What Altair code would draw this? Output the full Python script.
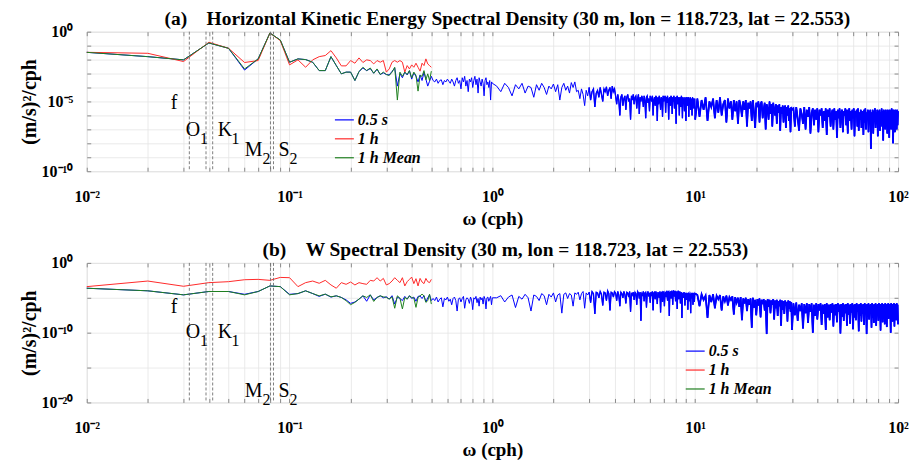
import altair as alt
import pandas as pd

FONT = "Liberation Serif"
SERIES = ["0.5 s", "1 h", "1 h Mean"]
COLORS = ["#0000ff", "#ff2a2a", "#1f7f1f"]

# inertial / tidal frequencies (cph): f, O1, K1, M2, S2
TIDE_FREQ = [0.03205, 0.03873, 0.04178, 0.08051, 0.08333]

# ---------------- (a) horizontal kinetic energy, log10 of PSD ----------------
# 1 h spectra at 0.01 ... 0.50 cph
HKE_1H = [-1.48, -1.55, -2.14, -0.76, -1.19, -2.21, -2.07, -0.10, -0.64, -2.38,
          -2.02, -2.55, -2.02, -1.79, -1.71, -1.36, -1.88, -2.45, -2.45, -2.07,
          -2.26, -1.88, -2.21, -2.02, -2.07, -2.31, -2.07, -2.19, -2.07, -2.90,
          -2.67, -2.19, -2.07, -2.19, -2.07, -2.19, -2.90, -2.43, -2.67, -2.38,
          -2.55, -2.26, -2.55, -2.83, -2.26, -2.43, -1.95, -2.31, -2.43, -2.55]
HKE_1H_MEAN = [-1.48, -1.79, -2.02, -0.81, -1.19, -2.67, -1.95, -0.10, -0.60, -2.19,
               -1.95, -2.00, -2.19, -2.79, -2.79, -1.79, -2.43, -3.02, -2.90, -2.90,
               -3.50, -2.86, -2.55, -2.79, -2.60, -2.98, -2.67, -3.07, -2.90, -3.07,
               -3.14, -2.90, -2.55, -4.90, -2.90, -3.20, -2.90, -3.07, -2.79, -3.31,
               -2.90, -3.14, -4.26, -3.14, -3.20, -2.79, -3.45, -3.02, -3.50, -2.83]
# 0.5 s spectrum, piecewise on its frequency grid
HKE_05S_LOW = [-1.48, -1.79, -2.02, -0.81, -1.19, -2.75, -1.95, -0.10, -0.60, -2.19,
               -1.95, -2.00, -2.19, -2.79, -2.79, -1.79, -2.43, -3.02, -2.90, -2.90,
               -3.50, -2.86, -2.60, -2.79, -2.65, -2.98, -2.70, -3.07, -2.95, -3.07,
               -3.10, -2.85, -2.60, -3.90, -3.00, -3.30, -2.90, -3.10, -2.80, -3.40,
               -2.95, -3.20, -3.60, -3.10, -3.50, -2.90, -3.40, -3.90, -3.55, -3.20]
HKE_05S_MID = [-3.5, -3.6, -3.4, -3.7, -3.5, -3.45, -3.8, -3.5, -3.6, -3.4,
               -3.55, -3.7, -3.4, -3.6, -3.9, -3.5, -3.3, -3.7, -3.5, -4.1,
               -3.3, -3.6, -3.2, -3.9, -3.5, -4.3, -3.4, -3.6, -3.3, -4.0,
               -3.5, -3.2, -3.8, -3.4, -4.4, -3.3, -3.6, -3.9, -3.4, -3.7,
               -4.6, -3.5, -3.3, -3.8, -3.6, -4.0, -3.5, -4.9, -3.6, -3.7]
HKE_05S_1_10 = [-3.9, -4.3, -3.7, -4.0, -4.6, -3.8, -4.1, -3.7, -4.4, -3.9,
                -4.0, -4.7, -3.8, -4.2, -3.7, -4.0, -4.5, -3.9, -4.1, -3.75,
                -4.3, -3.8, -4.9, -4.0, -3.7, -4.2, -3.9, -4.4, -3.65, -4.0,
                -3.6, -4.3,
                -4.2, -4.8, -4.1, -4.5, -5.3, -4.2, -4.6, -4.0, -4.9, -4.3,
                -4.1, -5.4, -4.4, -4.2, -4.7, -4.0, -4.5, -5.0, -4.1, -4.3,
                -3.95, -4.6, -4.2, -4.0, -4.8, -3.9, -4.3, -4.1,
                -4.6, -5.2, -4.5, -4.9, -6.0, -4.7, -4.5, -5.3, -4.8, -4.6,
                -5.6, -4.7, -4.5, -5.0, -4.8, -6.3, -4.6, -4.9, -4.5, -5.2,
                -4.7, -4.6, -5.5, -4.8, -4.5, -5.9, -4.7, -5.0, -4.6, -4.8,
                -5.4, -4.6, -4.9, -6.2, -4.7, -4.6, -5.1, -4.8, -5.7, -4.6,
                -4.8, -5.0, -4.6, -6.0, -4.9, -4.7, -5.3, -4.6, -4.8, -6.4,
                -4.7, -5.2, -4.6, -4.9, -5.6, -4.7, -4.8, -6.1, -4.6, -5.0,
                -4.8, -4.6, -5.8, -4.7, -5.1, -4.6, -4.9, -6.3, -4.8, -4.7,
                -5.3, -4.6, -4.8, -5.9, -4.7, -5.0, -4.6, -5.5, -4.8, -4.7,
                -6.6, -4.8, -4.6, -5.2, -4.7, -4.9, -6.0, -4.7, -4.8, -5.4,
                -4.6, -4.9, -6.2, -4.7, -5.0, -4.8, -5.7, -4.7, -4.9, -6.4,
                -4.8, -4.7, -5.3, -4.9, -4.7, -6.1, -4.8, -5.0, -4.7, -5.6,
                -4.8, -4.9, -6.0, -4.7, -5.1, -4.8, -5.5, -4.9, -4.8, -6.3]
HKE_05S_10_30 = [-4.8, -6.1, -4.9, -5.6, -4.7, -6.4, -5.0, -5.4, -4.8, -6.2,
                 -4.9, -5.8, -4.7, -6.0, -5.2, -4.9, -6.5, -4.8, -5.5, -5.0,
                 -6.3, -4.9, -5.7, -5.0, -6.6, -4.9, -5.3, -6.1, -5.0, -5.6,
                 -4.9, -6.8, -5.1, -5.5, -5.0, -6.4, -4.9, -5.8, -6.9, -5.1,
                 -5.4, -5.0, -6.5, -5.2, -5.0, -6.2, -5.6, -5.1, -7.0, -5.2,
                 -5.5, -6.3, -5.0, -5.9, -5.2, -6.8, -5.1, -5.6, -6.0, -5.2,
                 -6.6, -5.3, -5.8, -5.2, -7.1, -5.4, -5.9, -5.3, -6.5, -5.5,
                 -5.3, -6.9, -5.4, -6.0, -5.3, -6.4, -5.5, -7.2, -5.4, -5.6]
HKE_05S_30_100 = [-5.5, -6.8, -5.4, -6.2, -7.1, -5.5, -5.9, -6.6, -5.4, -7.0,
                  -5.6, -6.1, -5.4, -7.3, -5.8, -5.5, -6.7, -5.6, -6.3, -5.5,
                  -7.2, -5.6, -6.0, -5.5, -6.9, -5.7, -6.4, -5.5, -7.4, -5.6,
                  -6.1, -5.5, -6.8, -5.9, -5.6, -7.0, -5.5, -6.3, -5.7, -7.6,
                  -5.6, -6.2, -5.5, -6.9, -5.8, -5.6, -7.2, -5.7, -6.0, -5.5,
                  -6.7, -5.6, -7.3, -5.9, -5.5, -6.4, -5.7, -7.0, -5.6, -6.2,
                  -5.5, -7.5, -5.7, -6.1, -5.6, -6.8, -5.5, -7.1, -5.8, -6.3,
                  -5.6, -6.9, -5.7, -6.0, -7.4, -5.6, -6.5, -5.5, -7.0, -5.8,
                  -6.2, -5.6, -7.2, -5.7, -6.0, -5.6, -8.4, -5.8, -6.6, -5.6,
                  -7.3, -5.7, -6.1, -5.5, -6.9, -5.8, -6.4, -5.6, -7.5, -5.7,
                  -6.0, -5.6, -7.1, -5.8, -6.3, -5.5, -6.8, -5.7, -7.8, -5.6,
                  -6.2, -5.7, -7.0, -5.6, -6.5, -5.8, -7.3, -5.6, -6.1, -5.7,
                  -7.6, -5.6, -6.4, -5.8, -7.0, -5.5, -6.2, -5.7, -8.0, -5.6,
                  -6.6, -5.7, -7.2, -5.6, -6.3, -5.8, -7.0, -5.6, -6.7, -5.7]

# ---------------- (b) vertical velocity W, log10 of PSD ----------------
W_1H = [-3.40, -2.60, -3.35, -2.83, -2.69, -2.41, -2.36, -2.50, -2.08, -2.12,
        -3.40, -2.83, -2.60, -2.92, -2.50, -3.16, -3.63, -2.83, -3.07, -2.74,
        -3.16, -2.83, -2.97, -3.07, -2.50, -2.60, -2.12, -2.60, -2.22, -3.16,
        -2.97, -2.60, -2.12, -2.50, -2.83, -2.12, -3.30, -2.69, -2.36, -2.03,
        -2.97, -2.26, -3.30, -2.22, -2.74, -2.97, -2.22, -2.69, -2.83, -2.36]
W_1H_MEAN = [-3.63, -4.00, -4.58, -4.10, -4.10, -4.58, -4.10, -3.30, -3.40, -4.58,
             -4.39, -4.00, -4.39, -4.72, -4.48, -4.86, -4.72, -4.95, -5.42, -5.99,
             -5.66, -5.19, -4.72, -4.95, -4.58, -5.52, -4.95, -4.72, -4.86, -4.95,
             -5.19, -4.86, -6.50, -4.72, -5.05, -6.60, -4.95, -5.19, -4.72, -4.95,
             -5.05, -6.37, -4.95, -4.72, -4.48, -4.72, -5.66, -5.42, -4.48, -5.90]
W_05S_LOW = [-3.63, -4.00, -4.58, -4.10, -4.10, -4.50, -4.10, -3.30, -3.40, -4.50,
             -4.40, -4.00, -4.39, -4.80, -4.48, -4.90, -4.72, -4.95, -5.30, -5.80,
             -5.60, -5.19, -4.72, -5.50, -4.58, -5.30, -4.95, -4.72, -5.00, -4.85,
             -5.19, -4.70, -5.90, -4.90, -5.10, -5.40, -4.80, -5.20, -4.70, -5.10,
             -4.90, -5.50, -4.80, -4.75, -5.10, -4.70, -5.60, -5.00, -4.60, -5.40]
W_05S_MID = [-5.1, -5.4, -4.9, -5.6, -5.2, -5.0, -6.3, -5.1, -5.3, -4.9,
             -5.5, -5.2, -6.0, -5.1, -4.9, -5.4, -6.9, -5.2, -5.0, -5.6,
             -5.1, -4.8, -6.5, -5.3, -5.0, -5.2, -5.8, -4.9, -5.3, -6.7,
             -5.0, -5.2, -4.8, -5.7, -5.1, -6.2, -4.9, -5.3, -5.0, -5.9,
             -4.8, -5.2, -6.6, -5.0, -4.9, -5.5, -5.1, -4.8, -6.0, -5.0]
W_05S_1_10 = [-5.0, -4.7, -5.6, -4.9, -4.6, -6.4, -4.8, -5.2, -4.5, -5.0,
              -6.9, -4.6, -4.8, -5.4, -4.4, -4.7, -6.0, -4.5, -4.9, -4.3,
              -5.6, -4.6, -4.4, -7.2, -4.5, -4.3, -5.1, -4.4, -4.6, -6.2,
              -4.3, -4.5,
              -4.2, -5.3, -4.4, -4.1, -6.5, -4.3, -4.6, -4.2, -5.7, -4.1,
              -4.4, -7.3, -4.2, -4.3, -5.0, -4.1, -4.5, -6.1, -4.2, -4.3,
              -5.4, -4.0, -4.4, -6.8, -4.2, -4.3, -4.9, -4.1,
              -4.3, -5.4, -4.1, -4.6, -6.2, -4.2, -4.4, -5.0, -4.1, -4.5,
              -5.8, -4.2, -4.3, -4.9, -4.1, -7.0, -4.3, -4.6, -4.2, -5.3,
              -4.2, -4.4, -6.0, -4.1, -4.3, -5.1, -4.2, -8.3, -4.4, -4.6,
              -4.1, -5.5, -4.3, -4.2, -6.4, -4.4, -4.1, -4.8, -4.3, -5.7,
              -4.2, -4.5, -4.1, -6.8, -4.3, -4.2, -5.2, -4.1, -4.6, -5.9,
              -4.2, -4.4, -5.0, -4.1, -7.1, -4.3, -4.2, -5.6, -4.1, -4.5,
              -6.2, -4.2, -4.3, -4.9, -4.0, -5.4, -4.2, -4.1, -7.6, -4.3,
              -4.1, -5.1, -4.0, -4.3, -6.0, -3.95, -4.2, -4.8, -4.0, -5.5,
              -4.1, -4.3, -6.6, -4.2, -4.0, -5.2, -4.3, -4.1, -5.8, -4.4,
              -4.2, -7.9, -4.3, -4.5, -5.0, -4.2, -4.4, -6.1, -4.3, -4.6,
              -5.3, -4.3, -4.5, -6.7, -4.4, -4.3, -5.5, -4.4, -4.6, -7.2,
              -4.4, -4.5, -5.1, -4.3, -6.0, -4.5, -4.4, -5.6, -4.6, -4.4]
W_05S_10_30 = [-4.6, -6.2, -4.5, -5.3, -4.7, -7.9, -4.6, -5.6, -4.5, -6.5,
               -4.7, -5.2, -4.6, -6.8, -4.8, -5.5, -4.7, -6.1, -4.9, -5.3,
               -4.8, -7.4, -4.9, -5.7, -5.0, -6.3, -4.9, -8.2, -5.1, -5.8,
               -5.0, -6.9, -5.2, -6.0, -5.1, -9.3, -5.0, -6.4, -5.3, -7.5,
               -5.2, -6.1, -5.1, -7.8, -5.3, -5.9, -5.2, -6.8, -5.4, -10.2,
               -5.2, -6.3, -5.3, -7.2, -5.4, -6.0, -5.2, -8.1, -5.4, -6.5,
               -5.3, -7.6, -5.5, -6.2, -5.3, -9.0, -5.4, -6.7, -5.5, -7.3,
               -5.4, -6.1, -5.6, -8.4, -5.4, -6.6, -5.5, -7.0, -5.6, -9.6]
W_05S_30_100 = [-5.8, -7.5, -5.7, -8.3, -6.0, -6.9, -5.8, -9.4, -5.9, -7.2,
                -5.8, -8.6, -5.9, -7.0, -5.8, -10.0, -6.0, -7.6, -5.8, -8.1,
                -5.9, -6.8, -5.8, -8.9, -6.0, -7.3, -5.9, -9.6, -5.8, -7.8,
                -6.0, -8.2, -5.9, -7.1, -5.8, -9.1, -6.0, -7.5, -5.9, -8.5,
                -5.8, -7.0, -6.0, -10.1, -5.9, -7.7, -5.8, -8.3, -6.0, -7.2,
                -5.9, -9.0, -5.8, -7.4, -6.0, -8.7, -5.9, -7.1, -5.8, -9.5,
                -6.0, -7.8, -5.9, -8.2, -5.8, -7.0, -6.0, -9.8, -5.9, -7.6,
                -5.8, -8.4, -6.0, -7.3, -5.9, -8.9, -5.8, -7.0, -6.0, -10.2,
                -5.9, -7.7, -5.8, -8.1, -6.0, -7.2, -5.9, -9.3, -5.8, -7.9,
                -6.0, -8.6, -5.9, -7.1, -5.8, -9.0, -6.0, -7.5, -5.9, -8.3,
                -5.8, -7.2, -6.0, -9.7, -5.9, -7.8, -5.8, -8.5, -6.0, -7.0,
                -5.9, -8.8, -5.8, -7.4, -6.0, -9.2, -5.9, -7.6, -5.8, -8.0,
                -6.0, -7.1, -5.9, -10.0, -5.8, -7.9, -6.0, -8.4, -5.9, -7.3,
                -5.8, -9.1, -6.0, -7.6, -5.9, -8.2, -5.8, -7.0, -6.0, -8.8]

TITLE_A = "(a)\u00a0\u00a0\u00a0\u00a0Horizontal Kinetic Energy Spectral Density (30 m, lon = 118.723, lat = 22.553)"
TITLE_B = "(b)\u00a0\u00a0\u00a0\u00a0W Spectral Density (30 m, lon = 118.723, lat = 22.553)"

# FFT frequency grid segments (start, step) for each value list
SEG_LOW = (0.01, 0.01)
SEG_MID = (0.51, 0.01)
SEG_1_10 = (1.05, 0.05)
SEG_10_30 = (10.25, 0.25)
SEG_30_100 = (30.5, 0.5)


def frame(name, pieces):
    rows = []
    for (start, step), vals in pieces:
        for i, v in enumerate(vals):
            rows.append({"freq": round(start + step * i, 4), "psd": 10.0 ** v, "series": name})
    return pd.DataFrame(rows)


SUP = str.maketrans("-0123456789", "\u207b\u2070\u00b9\u00b2\u00b3\u2074\u2075\u2076\u2077\u2078\u2079")


def pow_label(e):
    return "10" + str(e).translate(SUP)


def label_expr(exps):
    parts = [f"abs(log(datum.value)/LN10 - ({e})) < 0.001 ? '{pow_label(e)}'" for e in exps]
    return " : ".join(parts) + " : ''"


X_VALUES = [float(f"{k}e{e}") for e in range(-2, 2) for k in range(1, 10)] + [100.0]
XSCALE = alt.Scale(type="log", domain=[0.01, 100], nice=False)
GRID = "#e4e4e4"
TICK = "#8a8a8a"
PLOT_W = 814
PLOT_H = 140


def text_layer(freq, txt, dx, ypx, size, align):
    return alt.Chart(pd.DataFrame({"freq": [freq], "t": [txt]})).mark_text(
        align=align, baseline="alphabetic", dx=dx, fontSize=size, font=FONT, color="black"
    ).encode(x=alt.X("freq:Q", scale=XSCALE, axis=None), y=alt.value(ypx), text="t:N")


def panel(title, dx_title, blue, red, green, yexp_lo, ystep, ylab_exps, rows, legend_x):
    yvals = [float(f"1e-{k}") for k in range(0, -yexp_lo + 1, ystep)]
    yscale = alt.Scale(type="log", domain=[10.0 ** yexp_lo, 1.0], nice=False)
    color = alt.Color("series:N", scale=alt.Scale(domain=SERIES, range=COLORS),
                      legend=alt.Legend(orient="none", legendX=legend_x, legendY=78, title=None,
                                        symbolType="stroke", symbolSize=361, symbolStrokeWidth=1.2,
                                        labelFont=FONT, labelFontSize=16, labelFontStyle="italic",
                                        labelFontWeight="bold", labelColor="black",
                                        rowPadding=0, labelOffset=3))
    color_nolegend = alt.Color("series:N", scale=alt.Scale(domain=SERIES, range=COLORS), legend=None)
    x_bottom = alt.Axis(values=X_VALUES, labelExpr=label_expr(range(-2, 3)), labelFlush=False,
                        labelOverlap=False, grid=True, gridColor=GRID, gridWidth=0.8, domain=False,
                        tickSize=4, tickColor=TICK, offset=-4, labelFont=FONT, labelFontSize=16,
                        labelFontWeight="bold", labelColor="black", labelPadding=17,
                        title="\u03c9 (cph)", titleFont=FONT, titleFontSize=19,
                        titleFontWeight="bold", titleColor="black", titlePadding=5)
    y_left = alt.Axis(values=yvals, labelExpr=label_expr(ylab_exps), labelOverlap=False,
                      grid=True, gridColor=GRID, gridWidth=0.8, domain=False, tickSize=4,
                      tickColor=TICK, offset=-4, labelFont=FONT, labelFontSize=16,
                      labelFontWeight="bold", labelColor="black", labelPadding=14,
                      title="(m/s)\u00b2/cph", titleFont=FONT, titleFontSize=20,
                      titleFontWeight="bold", titleColor="black", titlePadding=2)
    x_top = alt.Axis(orient="top", values=X_VALUES, labels=False, grid=False, domain=False,
                     tickSize=4, tickColor=TICK, offset=-4, title=None)
    y_right = alt.Axis(orient="right", values=yvals, labels=False, grid=False, domain=False,
                       tickSize=4, tickColor=TICK, offset=-4, title=None)

    l_blue = alt.Chart(blue).mark_line(strokeWidth=1).encode(
        x=alt.X("freq:Q", scale=XSCALE, axis=x_bottom),
        y=alt.Y("psd:Q", scale=yscale, axis=y_left), color=color)
    # the dense high-frequency part of the same 0.5 s series, drawn a little heavier
    l_blue_mid = alt.Chart(blue[blue["freq"] >= 3.0]).mark_line(strokeWidth=1.35).encode(
        x=alt.X("freq:Q", scale=XSCALE, axis=None),
        y=alt.Y("psd:Q", scale=yscale, axis=None), color=color_nolegend)
    l_blue_hi = alt.Chart(blue[blue["freq"] >= 10.0]).mark_line(strokeWidth=1.8).encode(
        x=alt.X("freq:Q", scale=XSCALE, axis=None),
        y=alt.Y("psd:Q", scale=yscale, axis=None), color=color_nolegend)
    l_red = alt.Chart(red).mark_line(strokeWidth=1).encode(
        x=alt.X("freq:Q", scale=XSCALE, axis=x_top),
        y=alt.Y("psd:Q", scale=yscale, axis=y_right), color=color)
    l_green = alt.Chart(green).mark_line(strokeWidth=1).encode(
        x=alt.X("freq:Q", scale=XSCALE, axis=None),
        y=alt.Y("psd:Q", scale=yscale, axis=None), color=color)
    rules = alt.Chart(pd.DataFrame({"freq": TIDE_FREQ})).mark_rule(
        strokeDash=[3, 2], color="#707070", strokeWidth=0.9
    ).encode(x=alt.X("freq:Q", scale=XSCALE, axis=None))

    r1, r2, r3 = rows
    ff, fo, fk, fm, fs = TIDE_FREQ
    texts = [
        text_layer(ff, "f", -12, r1, 20, "right"),
        text_layer(fo, "O", -6, r2, 20, "right"),
        text_layer(fo, "1", -6, r2 + 8, 16, "left"),
        text_layer(fk, "K", 5, r2, 20, "left"),
        text_layer(fk, "1", 19, r2 + 8, 16, "left"),
        text_layer(fm, "M", -8, r3, 20, "right"),
        text_layer(fm, "2", -8, r3 + 8, 16, "left"),
        text_layer(fs, "S", 5, r3, 20, "left"),
        text_layer(fs, "2", 16, r3 + 8, 16, "left"),
    ]
    return alt.layer(l_blue, l_blue_mid, l_blue_hi, l_red, l_green, rules, *texts).resolve_axis(
        x="independent", y="independent"
    ).properties(
        width=PLOT_W, height=PLOT_H,
        title=alt.TitleParams(title, font=FONT, fontSize=19.5, fontWeight="bold", color="black",
                              anchor="middle", dx=dx_title, offset=-6),
    )


blue_a = frame("0.5 s", [(SEG_LOW, HKE_05S_LOW), (SEG_MID, HKE_05S_MID), (SEG_1_10, HKE_05S_1_10),
                         (SEG_10_30, HKE_05S_10_30), (SEG_30_100, HKE_05S_30_100)])
red_a = frame("1 h", [(SEG_LOW, HKE_1H)])
green_a = frame("1 h Mean", [(SEG_LOW, HKE_1H_MEAN)])

blue_b = frame("0.5 s", [(SEG_LOW, W_05S_LOW), (SEG_MID, W_05S_MID), (SEG_1_10, W_05S_1_10),
                         (SEG_10_30, W_05S_10_30), (SEG_30_100, W_05S_30_100)])
red_b = frame("1 h", [(SEG_LOW, W_1H)])
green_b = frame("1 h Mean", [(SEG_LOW, W_1H_MEAN)])

pa = panel(TITLE_A, 15, blue_a, red_a, green_a, -10, 1, [0, -5, -10], (78, 105, 125), 248)
pb = panel(TITLE_B, 13, blue_b, red_b, green_b, -20, 5, [0, -10, -20], (50, 75, 135), 600)

chart = alt.vconcat(pa, pb, spacing=11).resolve_scale(color="independent").properties(
    padding={"left": 10, "top": 0, "right": 0, "bottom": 0}
).configure_view(stroke="#8c8c8c", strokeWidth=1).configure(font=FONT)

chart.save("out.html", embed_options={"renderer": "svg", "actions": False})
